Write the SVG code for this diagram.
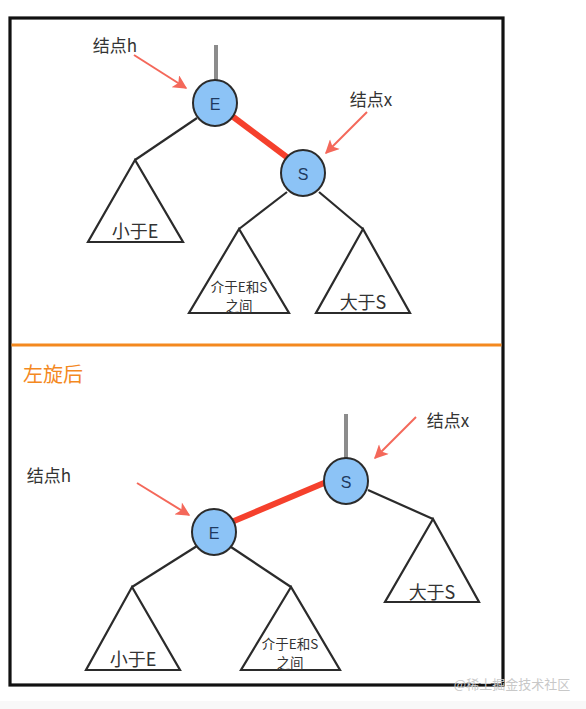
<svg xmlns="http://www.w3.org/2000/svg" width="586" height="709" viewBox="0 0 586 709">
<defs>
<marker id="ah" viewBox="0 0 10 10" refX="9" refY="5" markerWidth="7.5" markerHeight="7" orient="auto" markerUnits="strokeWidth">
<path d="M0,0 L10,5 L0,10 L2.5,5 Z" fill="#f4685a"/>
</marker>
<style>
.lbl{font-family:"Noto Sans CJK SC","Liberation Sans",sans-serif;fill:#333;text-anchor:middle;dominant-baseline:central}
.node ellipse{fill:#8cc3f6;stroke:#2b2b2b;stroke-width:2}
.node text{font-family:"Liberation Sans","Noto Sans",sans-serif;font-size:16px;fill:#1f3a5f;text-anchor:middle;dominant-baseline:central}
.tri{fill:#fff;stroke:#2b2b2b;stroke-width:2.2;stroke-linejoin:miter}
.edge{stroke:#2b2b2b;stroke-width:2.2;fill:none}
.red{stroke:#f5402c;stroke-width:6;stroke-linecap:butt}
.stem{stroke:#8c8c8c;stroke-width:4}
.arr{stroke:#f4685a;stroke-width:2;fill:none;marker-end:url(#ah)}
</style>
</defs>
<rect x="0" y="0" width="586" height="709" fill="#fff"/>
<rect x="0" y="701" width="586" height="8" fill="#f8f8f8"/>
<rect x="10" y="18" width="493" height="667" fill="none" stroke="#111" stroke-width="3.2"/>
<line x1="11.5" y1="345" x2="501.5" y2="345" stroke="#f4891f" stroke-width="3"/>

<g id="connectors">
<line class="stem" x1="216" y1="45" x2="216" y2="81"/>
<line class="red" x1="232" y1="116" x2="288" y2="158"/>
<line class="edge" x1="197" y1="118" x2="135" y2="160"/>
<line class="edge" x1="287" y1="192" x2="239" y2="229"/>
<line class="edge" x1="319" y1="192" x2="363" y2="229"/>
<line class="arr" x1="134" y1="55" x2="186" y2="88"/>
<line class="arr" x1="367" y1="112" x2="326" y2="153"/>

<line class="stem" x1="346" y1="414" x2="346" y2="458"/>
<line class="red" x1="234" y1="521" x2="324" y2="483"/>
<line class="edge" x1="368" y1="490" x2="433" y2="519"/>
<line class="edge" x1="197" y1="546" x2="132" y2="587"/>
<line class="edge" x1="231" y1="547" x2="291" y2="587"/>
<line class="arr" x1="416" y1="417" x2="375" y2="458"/>
<line class="arr" x1="137" y1="483" x2="189" y2="515"/>
</g>

<g id="top-E" class="node"><ellipse cx="215" cy="103" rx="22" ry="23"/><text x="215" y="104">E</text></g>
<g id="top-S" class="node"><ellipse cx="303" cy="173" rx="22" ry="23"/><text x="303" y="174">S</text></g>
<g id="top-lessE"><polygon class="tri" points="135,160 88,242 183,242"/><text class="lbl" x="135" y="230" font-size="18">小于E</text></g>
<g id="top-between"><polygon class="tri" points="239,229 189,313 289,313"/><text class="lbl" x="239" y="286" font-size="13.5">介于E和S</text><text class="lbl" x="239" y="305" font-size="13.5">之间</text></g>
<g id="top-greaterS"><polygon class="tri" points="363,229 316,313 410,313"/><text class="lbl" x="363" y="301" font-size="18">大于S</text></g>
<g id="top-label-h"><text class="lbl" x="115" y="44" font-size="17">结点h</text></g>
<g id="top-label-x"><text class="lbl" x="371" y="98" font-size="17">结点x</text></g>

<g id="title"><text x="23" y="373" font-family="Noto Sans CJK SC,Liberation Sans,sans-serif" font-size="20" fill="#f4891f" dominant-baseline="central">左旋后</text></g>

<g id="bot-S" class="node"><ellipse cx="346" cy="481" rx="22" ry="23"/><text x="346" y="482">S</text></g>
<g id="bot-E" class="node"><ellipse cx="214" cy="532" rx="22" ry="23"/><text x="214" y="533">E</text></g>
<g id="bot-greaterS"><polygon class="tri" points="433,519 385,602 479,602"/><text class="lbl" x="432" y="591" font-size="18">大于S</text></g>
<g id="bot-lessE"><polygon class="tri" points="132,587 86,670 180,670"/><text class="lbl" x="133" y="658" font-size="18">小于E</text></g>
<g id="bot-between"><polygon class="tri" points="291,587 241,670 340,670"/><text class="lbl" x="290" y="643" font-size="13.5">介于E和S</text><text class="lbl" x="290" y="662" font-size="13.5">之间</text></g>
<g id="bot-label-x"><text class="lbl" x="448" y="419" font-size="17">结点x</text></g>
<g id="bot-label-h"><text class="lbl" x="49" y="474" font-size="17">结点h</text></g>

<text x="512" y="683" font-family="Noto Sans CJK SC,sans-serif" font-size="13" fill="#c8c8c8" text-anchor="middle" dominant-baseline="central">@稀土掘金技术社区</text>
</svg>
